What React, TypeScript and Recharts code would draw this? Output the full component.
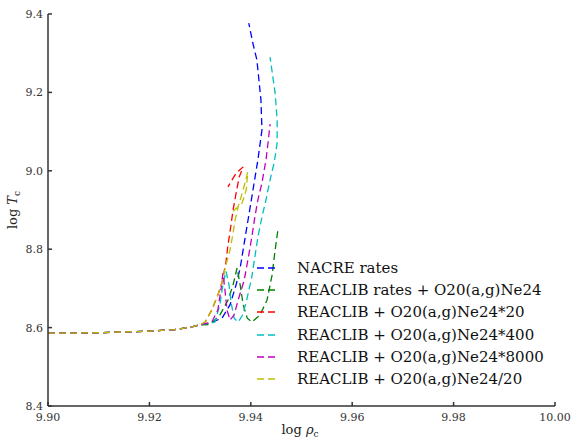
import { Legend, Line, LineChart, XAxis, YAxis } from "recharts";

// shared low-density track (all runs coincide here)
const baseRho = [9.9, 9.905, 9.91, 9.915, 9.92, 9.925, 9.928, 9.93];
const baseT = [8.586, 8.586, 8.587, 8.589, 8.591, 8.595, 8.601, 8.607];

const nacreRho = [9.932, 9.9343, 9.9359, 9.9371, 9.9379, 9.9389, 9.9402, 9.9414, 9.9422, 9.942, 9.9412, 9.9404, 9.9396];
const nacreT = [8.612, 8.624, 8.658, 8.709, 8.752, 8.831, 8.933, 9.028, 9.104, 9.181, 9.283, 9.326, 9.377];

const reaclibRho = [9.932, 9.9339, 9.9355, 9.9365, 9.9373, 9.9379, 9.9385, 9.9393, 9.9402, 9.9418, 9.9432, 9.9442, 9.9448, 9.9454];
const reaclibT = [8.608, 8.632, 8.67, 8.709, 8.752, 8.709, 8.658, 8.624, 8.614, 8.632, 8.67, 8.734, 8.798, 8.854];

const x20Rho = [9.931, 9.9323, 9.9335, 9.9343, 9.9351, 9.9355, 9.9359, 9.9365, 9.9371, 9.9377, 9.9385, 9.9371, 9.9355];
const x20T = [8.614, 8.645, 8.683, 8.714, 8.767, 8.811, 8.844, 8.9, 8.943, 8.984, 9.01, 8.994, 8.959];

const x400Rho = [9.9329, 9.9339, 9.9345, 9.9351, 9.9357, 9.9361, 9.9367, 9.9375, 9.9383, 9.9391, 9.9402, 9.9414, 9.9422, 9.943, 9.9438, 9.9446, 9.9452, 9.9452, 9.9448, 9.9438];
const x400T = [8.614, 8.658, 8.709, 8.744, 8.709, 8.665, 8.624, 8.614, 8.63, 8.665, 8.729, 8.831, 8.882, 8.926, 8.977, 9.02, 9.071, 9.13, 9.198, 9.29];

const x8000Rho = [9.9323, 9.9335, 9.9341, 9.9345, 9.9349, 9.9353, 9.9359, 9.9367, 9.9375, 9.9387, 9.9396, 9.9402, 9.9408, 9.9414, 9.9422, 9.943, 9.9434, 9.9438];
const x8000T = [8.614, 8.645, 8.696, 8.739, 8.696, 8.645, 8.619, 8.632, 8.67, 8.721, 8.785, 8.831, 8.882, 8.926, 8.969, 9.028, 9.071, 9.119];

const div20Rho = [9.931, 9.9323, 9.9335, 9.9343, 9.9351, 9.9359, 9.9365, 9.9369, 9.9375, 9.9383, 9.9389, 9.9394, 9.9391, 9.9383, 9.9361];
const div20T = [8.614, 8.645, 8.683, 8.714, 8.76, 8.798, 8.841, 8.874, 8.908, 8.943, 8.971, 8.997, 8.951, 8.918, 8.892];

const xTicks = [9.9, 9.92, 9.94, 9.96, 9.98, 10.0];
const yTicks = [8.4, 8.6, 8.8, 9.0, 9.2, 9.4];

const track = (rho: number[], t: number[]) =>
  [...baseRho, ...rho].map((x, i) => ({ x, y: [...baseT, ...t][i] }));

const series = [
  { name: "NACRE rates", color: "#0000ff", data: track(nacreRho, nacreT) },
  { name: "REACLIB rates + O20(a,g)Ne24", color: "#008000", data: track(reaclibRho, reaclibT) },
  { name: "REACLIB + O20(a,g)Ne24*20", color: "#ff0000", data: track(x20Rho, x20T) },
  { name: "REACLIB + O20(a,g)Ne24*400", color: "#00bfbf", data: track(x400Rho, x400T) },
  { name: "REACLIB + O20(a,g)Ne24*8000", color: "#bf00bf", data: track(x8000Rho, x8000T) },
  { name: "REACLIB + O20(a,g)Ne24/20", color: "#bfbf00", data: track(div20Rho, div20T) }
];

const font = "'DejaVu Serif', serif";
const dash = "7 4";
const frame = { stroke: "#333", strokeWidth: 1.5 };
const tickStyle = { fill: "#333", fontSize: 11, fontFamily: font };

function LegendBox() {
  return (
    <div style={{ fontFamily: font, fontSize: 15, color: "#111" }}>
      {series.map((s) => (
        <div key={s.name} style={{ display: "flex", alignItems: "center", height: 22.2 }}>
          <svg width={42} height={10}>
            <line x1={2} x2={24} y1={5} y2={5} stroke={s.color} strokeWidth={1.3} strokeDasharray={dash} />
          </svg>
          <span style={{ whiteSpace: "nowrap" }}>{s.name}</span>
        </div>
      ))}
    </div>
  );
}

export default function App() {
  return (
    <div style={{ position: "absolute", left: 0, top: 0, width: 572, height: 440, background: "#fff" }}>
      <LineChart width={572} height={440} margin={{ top: 14, right: 17, left: 0, bottom: 0 }}>
        <XAxis
          xAxisId="b"
          type="number"
          dataKey="x"
          domain={[9.9, 10.0]}
          ticks={xTicks}
          tickFormatter={(v: number) => v.toFixed(2)}
          allowDataOverflow
          height={34}
          axisLine={frame}
          tickLine={frame}
          tickSize={-4}
          tickMargin={11}
          tick={tickStyle}
          label={{
            content: () => (
              <text x={300} y={434} textAnchor="middle" fontFamily={font} fontSize={13} fill="#222">
                log <tspan fontStyle="italic">ρ</tspan>
                <tspan fontSize={9} dy={3}>c</tspan>
              </text>
            )
          }}
        />
        <XAxis
          xAxisId="t"
          orientation="top"
          type="number"
          dataKey="x"
          domain={[9.9, 10.0]}
          ticks={xTicks}
          allowDataOverflow
          height={0}
          axisLine={frame}
          tickLine={frame}
          tickSize={-4}
          tick={() => <g />}
        />
        <YAxis
          yAxisId="l"
          type="number"
          dataKey="y"
          domain={[8.4, 9.4]}
          ticks={yTicks}
          tickFormatter={(v: number) => v.toFixed(1)}
          allowDataOverflow
          width={48}
          axisLine={frame}
          tickLine={frame}
          tickSize={-4}
          tickMargin={9}
          tick={tickStyle}
          label={{
            content: () => (
              <text
                x={17}
                y={210}
                textAnchor="middle"
                fontFamily={font}
                fontSize={13}
                fill="#222"
                transform="rotate(-90 17 210)"
              >
                log <tspan fontStyle="italic">T</tspan>
                <tspan fontSize={9} dy={3}>c</tspan>
              </text>
            )
          }}
        />
        <YAxis
          yAxisId="r"
          orientation="right"
          type="number"
          dataKey="y"
          domain={[8.4, 9.4]}
          ticks={yTicks}
          allowDataOverflow
          width={0}
          axisLine={frame}
          tickLine={frame}
          tickSize={-4}
          tick={() => <g />}
        />
        {series.map((s) => (
          <Line
            key={s.name}
            xAxisId="b"
            yAxisId="l"
            data={s.data}
            dataKey="y"
            name={s.name}
            type="linear"
            stroke={s.color}
            strokeWidth={1.3}
            strokeDasharray={dash}
            dot={false}
            activeDot={false}
            isAnimationActive={false}
          />
        ))}
        <Legend
          layout="vertical"
          align="center"
          verticalAlign="middle"
          content={() => <LegendBox />}
          wrapperStyle={{ left: 255, top: 257, width: 310 }}
        />
      </LineChart>
    </div>
  );
}
